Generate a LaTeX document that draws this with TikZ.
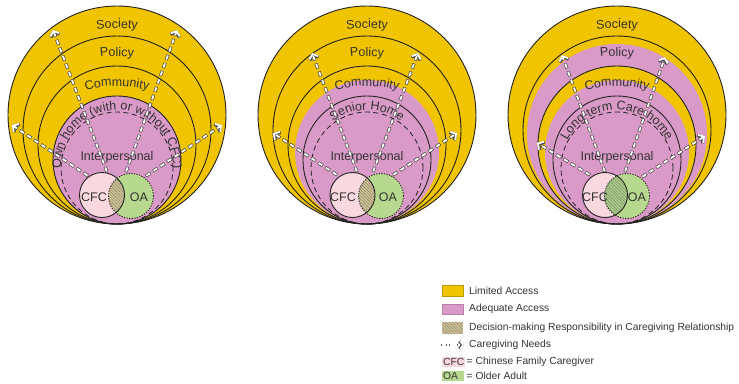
\documentclass[tikz,border=0pt]{standalone}
\usepackage{fontspec}
\setmainfont{Liberation Sans}
\usetikzlibrary{decorations.text,patterns.meta,arrows.meta}
\definecolor{yel}{HTML}{F1C400}
\definecolor{pnk}{HTML}{DA9AC7}
\definecolor{lpink}{HTML}{FAD8E0}
\definecolor{lgreen}{HTML}{B6D98F}
\definecolor{lenstan}{HTML}{CFC39B}
\definecolor{hatchc}{HTML}{8A7F5E}
\definecolor{lensgreen}{HTML}{A9CC88}
\definecolor{hatchg}{HTML}{7E8E68}
\definecolor{lc}{HTML}{222222}
\definecolor{tc}{HTML}{333333}
\definecolor{yelb}{HTML}{B89A00}
\definecolor{pnkb}{HTML}{B87FA8}

\newcommand{\dfont}{\fontsize{12.5}{14}\selectfont}
\newcommand{\lgfont}{\fontsize{10.3}{12}\selectfont}
% circle tangent to the common bottom line y=224: centre x, radius, style
\newcommand{\tcirc}[3]{\path[#3] (#1,224) ++(0pt,#2pt) circle[radius=#2pt];}
% text on an arc over the top: centre x, centre y, radius, half angle, text
\newcommand{\arctext}[5]{\path[decorate,decoration={text along path,text align=center,text color=tc,text={|\dfont|#5}}] (#1,#2) ++({90+#4}:#3pt) arc[start angle={90+#4},end angle={90-#4},radius=#3pt];}
% caregiving-needs arrow between two named coordinates
\newcommand{\need}[2]{\draw[needout] (#1) -- (#2); \draw[needin] (#1) -- (#2);}
% CFC / OA pair: id, cfc x, oa x, cfc label x, oa label x, lens colour, hatch colour
\newcommand{\pair}[7]{%
  \node[person, fill=lpink] (cfc#1) at (#2,195) {};
  \node[person, fill=lgreen] (oa#1) at (#3,196) {};
  \begin{scope}
    \clip (#2,195) circle[radius=22.5pt];
    \fill[#6] (#3,196) circle[radius=22.5pt];
    \fill[pattern={Lines[angle=-45,distance=2.2pt,line width=0.45pt]},pattern color=#7] (#3,196) circle[radius=22.5pt];
  \end{scope}
  \draw[lc,line width=0.9pt] (cfc#1) circle[radius=22.5pt];
  \draw[lc,line width=0.9pt,dash pattern=on 1.2pt off 1.4pt] (oa#1) circle[radius=22.5pt];
  \node[font=\dfont,text=tc] (cfct#1) at (#4,197) {CFC};
  \node[font=\dfont,text=tc] (oat#1) at (#5,197) {OA};
}

\tikzset{
  ring/.style={draw=lc,line width=0.9pt},
  dring/.style={draw=lc,line width=0.8pt,dash pattern=on 5pt off 3.5pt},
  person/.style={circle,minimum size=45pt,inner sep=0pt},
  needout/.style={draw=lc!80,line width=3.2pt,dash pattern=on 5.5pt off 3pt,-{Straight Barb[length=4pt,width=9.5pt]}},
  needin/.style={draw=white,line width=1.8pt,dash pattern=on 4.3pt off 4.2pt,dash phase=7.9pt,-{Straight Barb[length=4pt,width=9.5pt]}},
  lneedout/.style={draw=lc!75,line width=2.8pt,dash pattern=on 3.4pt off 2pt,-{Straight Barb[length=3pt,width=7.5pt]}},
  lneedin/.style={draw=white,line width=1.4pt,dash pattern=on 2.2pt off 3.2pt,dash phase=4.8pt,-{Straight Barb[length=3pt,width=7.5pt]}},
  lgtext/.style={font=\lgfont,text=tc,anchor=west,inner sep=0pt},
  swatch/.style={minimum width=20.5pt,minimum height=10.5pt,inner sep=0pt,anchor=north west,line width=0.6pt},
}

\begin{document}
\begin{tikzpicture}[x=1pt,y=-1pt]
\useasboundingbox (0,0) rectangle (739,383);

% ---------------- Diagram 1: own home ----------------
\tcirc{117}{109}{fill=yel}
\tcirc{117}{64}{fill=pnk}
\tcirc{117}{109}{ring}
\tcirc{117}{94}{ring}
\tcirc{117}{79}{ring}
\tcirc{117}{64}{ring}
\tcirc{117}{56}{dring}
\arctext{117}{196}{168}{20}{Society}
\arctext{117}{196}{140}{25}{Policy}
\arctext{117}{196}{110}{32}{Community}
\arctext{117}{166}{56}{100}{Own home (with or without CFC)}
\node[font=\dfont,text=tc] (ip1) at (117,157) {Interpersonal};
\coordinate (a1s) at (107,172); \coordinate (a1e) at (53,30);
\coordinate (b1s) at (126,172); \coordinate (b1e) at (177,30);
\coordinate (c1s) at (88,176);  \coordinate (c1e) at (12,125);
\coordinate (d1s) at (146,176); \coordinate (d1e) at (222,125);
\need{a1s}{a1e}\need{b1s}{b1e}\need{c1s}{c1e}\need{d1s}{d1e}
\pair{1}{102}{131}{94}{139}{lenstan}{hatchc}

% ---------------- Diagram 2: senior home ----------------
\tcirc{367}{109}{fill=yel}
\tcirc{367}{72}{fill=pnk}
\tcirc{367}{109}{ring}
\tcirc{367}{94}{ring}
\tcirc{367}{79}{ring}
\tcirc{367}{64}{ring}
\tcirc{367}{56}{dring}
\arctext{367}{196}{168}{20}{Society}
\arctext{367}{196}{140}{25}{Policy}
\arctext{367}{196}{110}{32}{Community}
\arctext{367}{166}{56}{60}{Senior Home}
\node[font=\dfont,text=tc] (ip2) at (367,157) {Interpersonal};
\coordinate (a2s) at (357,172); \coordinate (a2e) at (312,53);
\coordinate (b2s) at (373,172); \coordinate (b2e) at (418,53);
\coordinate (c2s) at (337,175); \coordinate (c2e) at (273,133);
\coordinate (d2s) at (393,175); \coordinate (d2e) at (457,133);
\need{a2s}{a2e}\need{b2s}{b2e}\need{c2s}{c2e}\need{d2s}{d2e}
\pair{2}{352.5}{381}{343}{388}{lenstan}{hatchc}

% ---------------- Diagram 3: long-term care home ----------------
\tcirc{617}{109}{fill=yel}
\tcirc{617}{90}{fill=pnk}
\tcirc{617}{79}{fill=yel}
\tcirc{617}{72}{fill=pnk}
\tcirc{617}{109}{ring}
\tcirc{617}{94}{ring}
\tcirc{617}{79}{ring}
\tcirc{617}{64}{ring}
\tcirc{617}{56}{dring}
\arctext{617}{196}{168}{20}{Society}
\arctext{617}{196}{140}{25}{Policy}
\arctext{617}{196}{110}{32}{Community}
\arctext{617}{166}{56}{80}{Long-term Care home}
\node[font=\dfont,text=tc] (ip3) at (617,157) {Interpersonal};
\coordinate (a3s) at (605,172); \coordinate (a3e) at (562,55);
\coordinate (b3s) at (625,172); \coordinate (b3e) at (665,57);
\coordinate (c3s) at (590,175); \coordinate (c3e) at (537,143);
\coordinate (d3s) at (642,177); \coordinate (d3e) at (705,136);
\need{a3s}{a3e}\need{b3s}{b3e}\need{c3s}{c3e}\need{d3s}{d3e}
\pair{3}{605}{627}{595}{637}{lensgreen}{hatchg}

% ---------------- Legend ----------------
\node[swatch,fill=yel,draw=yelb] (lg1) at (442,285) {};
\node[lgtext] (lt1) at (469,290.5) {Limited Access};
\node[swatch,fill=pnk,draw=pnkb] (lg2) at (442,303.5) {};
\node[lgtext] (lt2) at (469,309) {Adequate Access};
\node[swatch,minimum height=11.5pt,preaction={fill=lenstan},pattern={Lines[angle=-45,distance=2.2pt,line width=0.45pt]},pattern color=hatchc] (lg3) at (442,322) {};
\node[lgtext] (lt3) at (469,328.3) {Decision-making Responsibility in Caregiving Relationship};
\coordinate (lg4s) at (441,345); \coordinate (lg4e) at (464,345);
\draw[lneedout] (lg4s) -- (lg4e); \draw[lneedin] (lg4s) -- (lg4e);
\node[lgtext] (lt4) at (469,345) {Caregiving Needs};
\node[fill=lpink,anchor=west,inner xsep=1pt,inner ysep=0pt,minimum height=10pt,text width=21pt,align=left,font=\lgfont,text=tc] (lg5) at (442,361.7) {CFC};
\node[lgtext] (lt5) at (466.5,361.7) {= Chinese Family Caregiver};
\node[fill=lgreen,anchor=west,inner xsep=1pt,inner ysep=0pt,minimum height=10pt,text width=19.6pt,align=left,font=\lgfont,text=tc] (lg6) at (442,375.7) {OA};
\node[lgtext] (lt6) at (466.5,375.7) {= Older Adult};
\end{tikzpicture}
\end{document}
